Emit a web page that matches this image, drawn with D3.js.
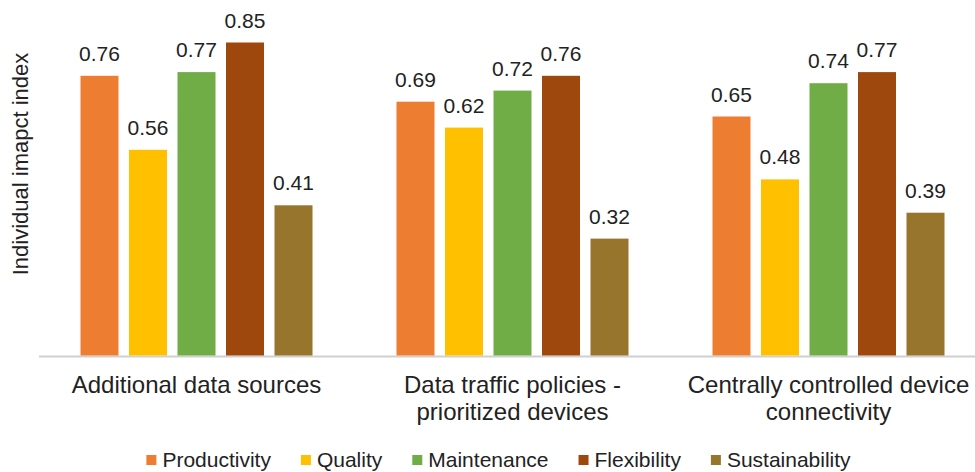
<!DOCTYPE html>
<html>
<head>
<meta charset="utf-8">
<script src="https://cdn.jsdelivr.net/npm/d3@7"></script>
<style>
  html, body { margin: 0; padding: 0; background: #fff; }
  svg { display: block; }
  text { font-family: "Liberation Sans", Arial, sans-serif; fill: #222; }
</style>
</head>
<body>
<svg id="chart" width="975" height="472"></svg>
<script>
const categories = [
  ["Additional data sources"],
  ["Data traffic policies -", "prioritized devices"],
  ["Centrally controlled device", "connectivity"]
];
const seriesNames = ["Productivity", "Quality", "Maintenance", "Flexibility", "Sustainability"];
const productivity = [0.76, 0.69, 0.65];
const quality = [0.56, 0.62, 0.48];
const maintenance = [0.77, 0.72, 0.74];
const flexibility = [0.85, 0.76, 0.77];
const sustainability = [0.41, 0.32, 0.39];
const colors = ["#ED7D31", "#FFC000", "#70AD47", "#9E480E", "#98752D"];
const yAxisTitle = "Individual imapct index";

const seriesValues = [productivity, quality, maintenance, flexibility, sustainability];
const catKeys = categories.map((c, i) => i);

const svg = d3.select("#chart");

const x0 = d3.scaleBand().domain(catKeys).range([38.5, 986.5])
  .paddingInner(84 / 316).paddingOuter(42 / 316);
const x1 = d3.scaleBand().domain(seriesNames).range([0, x0.bandwidth()])
  .paddingInner(10.5 / 48.5).paddingOuter(0);
const y = d3.scaleLinear().domain([0, 0.9]).range([357, 357 - 370 * 0.9]);

// baseline
svg.append("line")
  .attr("x1", 39).attr("x2", 975)
  .attr("y1", 356.5).attr("y2", 356.5)
  .attr("stroke", "#d0d0d0").attr("stroke-width", 2);

// bars
const groups = svg.selectAll("g.cat").data(catKeys).join("g")
  .attr("class", "cat")
  .attr("transform", d => `translate(${x0(d)},0)`);

groups.each(function(ci) {
  const g = d3.select(this);
  const data = seriesNames.map((s, si) => ({ s, si, v: seriesValues[si][ci] }));
  g.selectAll("rect").data(data).join("rect")
    .attr("x", d => x1(d.s))
    .attr("width", x1.bandwidth())
    .attr("y", d => y(d.v))
    .attr("height", d => 355.5 - y(d.v))
    .attr("fill", d => colors[d.si]);
  g.selectAll("text.val").data(data).join("text")
    .attr("class", "val")
    .attr("x", d => x1(d.s) + x1.bandwidth() / 2)
    .attr("y", d => y(d.v) - 15)
    .attr("text-anchor", "middle")
    .attr("font-size", 21)
    .text(d => d.v.toFixed(2));
});

// category labels
catKeys.forEach(ci => {
  const t = svg.append("text")
    .attr("x", x0(ci) + x0.bandwidth() / 2)
    .attr("y", 393)
    .attr("text-anchor", "middle")
    .attr("font-size", 24);
  categories[ci].forEach((line, li) => {
    t.append("tspan")
      .attr("x", x0(ci) + x0.bandwidth() / 2)
      .attr("dy", li === 0 ? 0 : 27)
      .text(line);
  });
});

// y axis title
svg.append("text")
  .attr("transform", "translate(28,164) rotate(-90)")
  .attr("text-anchor", "middle")
  .attr("font-size", 22)
  .text(yAxisTitle);

// legend
const legend = svg.append("g");
let lx = 0;
seriesNames.forEach((s, i) => {
  const item = legend.append("g").attr("transform", `translate(${lx},0)`);
  item.append("rect").attr("x", 0).attr("y", -12).attr("width", 10).attr("height", 10)
    .attr("fill", colors[i]);
  const t = item.append("text").attr("x", 16).attr("y", 0).attr("font-size", 21).text(s);
  lx += 16 + t.node().getComputedTextLength() + 30;
});
const totalW = lx - 30;
legend.attr("transform", `translate(${498.5 - totalW / 2},467)`);
</script>
</body>
</html>
